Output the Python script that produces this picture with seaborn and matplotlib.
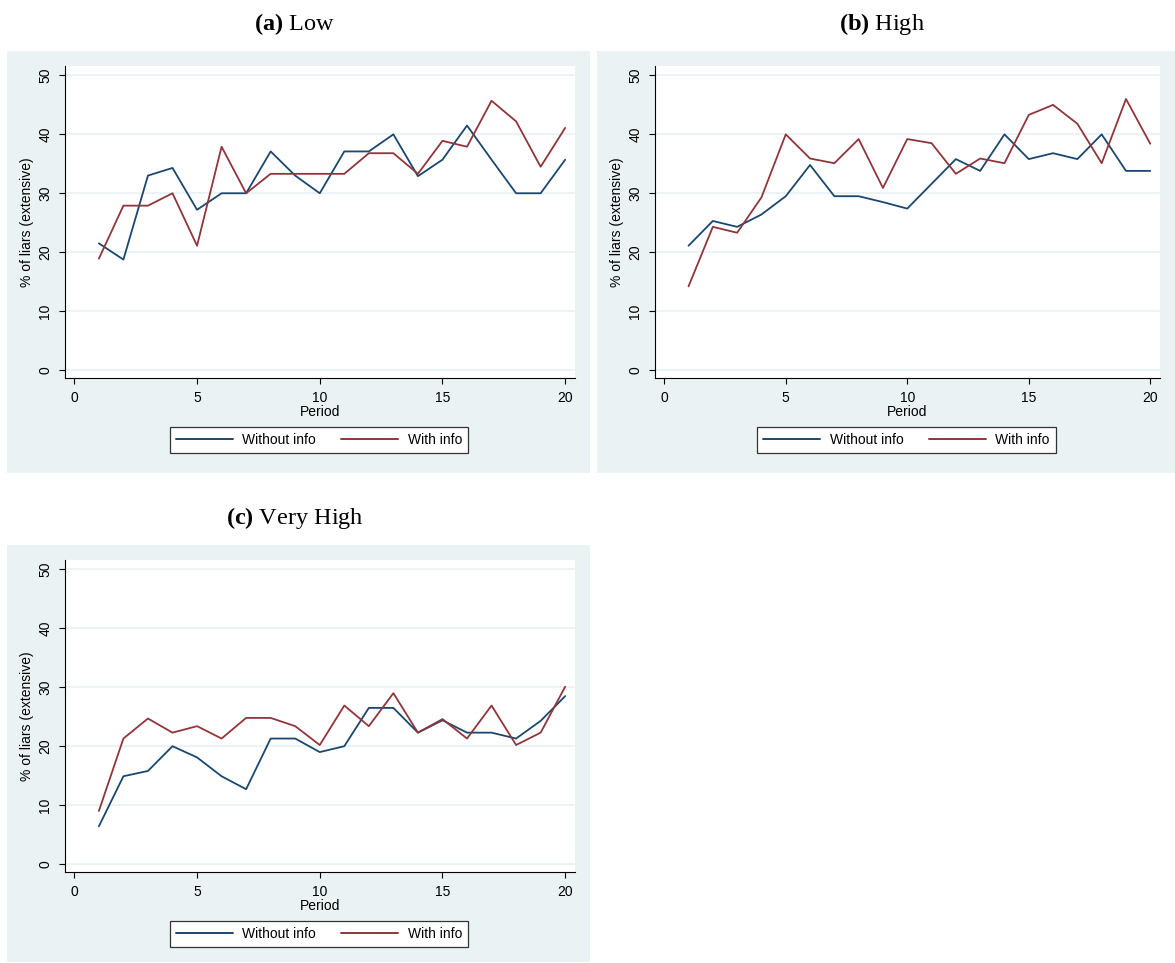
import numpy as np
import pandas as pd
import matplotlib
matplotlib.use("Agg")
import matplotlib.pyplot as plt
from matplotlib.patches import Rectangle
import seaborn as sns

# -----------------------------
# Data
# -----------------------------
periods = list(range(1, 21))

low_without = [21.5, 18.75, 33.0, 34.3, 27.2, 30.0, 30.0, 37.1, 33.0, 30.0,
               37.1, 37.1, 40.0, 32.9, 35.7, 41.5, 35.7, 30.0, 30.0, 35.7]
low_with = [18.9, 27.9, 27.9, 30.0, 21.1, 37.9, 30.0, 33.3, 33.3, 33.3,
            33.3, 36.8, 36.8, 33.3, 38.9, 37.9, 45.7, 42.2, 34.5, 41.1]

high_without = [21.1, 25.3, 24.3, 26.4, 29.5, 34.8, 29.5, 29.5, 28.5, 27.4,
                31.6, 35.8, 33.8, 40.0, 35.8, 36.8, 35.8, 40.0, 33.8, 33.8]
high_with = [14.2, 24.3, 23.3, 29.3, 40.0, 35.9, 35.1, 39.2, 30.9, 39.2,
             38.5, 33.3, 35.9, 35.1, 43.3, 45.0, 41.8, 35.1, 46.0, 38.4]

vhigh_without = [6.4, 14.9, 15.8, 20.0, 18.1, 14.9, 12.7, 21.3, 21.3, 19.0,
                 20.0, 26.5, 26.5, 22.3, 24.4, 22.3, 22.3, 21.3, 24.3, 28.5]
vhigh_with = [9.0, 21.3, 24.7, 22.3, 23.4, 21.3, 24.8, 24.8, 23.4, 20.2,
              26.9, 23.4, 29.0, 22.3, 24.6, 21.3, 26.9, 20.2, 22.3, 30.1]

groups = ["Without info", "With info"]
x_ticks = [0, 5, 10, 15, 20]
y_ticks = [0, 10, 20, 30, 40, 50]

NAVY = "#1a476f"
MAROON = "#90353b"
BG = "#eaf2f3"

# -----------------------------
# Style
# -----------------------------
sns.set_style("ticks")
plt.rcParams["font.family"] = ["Liberation Sans", "DejaVu Sans"]
plt.rcParams["mathtext.fontset"] = "custom"
plt.rcParams["mathtext.rm"] = "Liberation Serif"
plt.rcParams["mathtext.bf"] = "Liberation Serif:bold"
plt.rcParams["text.color"] = "black"
plt.rcParams["axes.labelcolor"] = "black"
plt.rcParams["xtick.color"] = "black"
plt.rcParams["ytick.color"] = "black"

W, H = 1175, 963
fig = plt.figure(figsize=(W / 100, H / 100), dpi=100)
fig.patch.set_facecolor("white")


def fx(px):
    return px / W


def fy(py):
    return 1 - py / H


# panel: (bg_left, bg_top, bg_right, bg_bottom), title, series
panels = [
    ((7, 51, 590, 473), r"$\mathbf{(a)}$ Low", low_without, low_with),
    ((597, 51, 1175, 473), r"$\mathbf{(b)}$ High", high_without, high_with),
    ((7, 545, 590, 962), r"$\mathbf{(c)}$ Very High", vhigh_without, vhigh_with),
]

for (l, t, r, b), title, without, with_ in panels:
    # gray graph region
    fig.patches.append(Rectangle((fx(l), fy(b)), fx(r - l), (b - t) / H,
                                 transform=fig.transFigure, facecolor=BG,
                                 edgecolor="none", zorder=-5))
    fig.text(fx((l + r) / 2 - 4), fy(t - 27), title, ha="center", va="center",
             fontsize=17.5, family="Liberation Serif", color="black")

    ax_l, ax_t = l + 58, t + 15
    ax_r, ax_b = r - 15, t + 327
    ax = fig.add_axes([fx(ax_l), fy(ax_b), fx(ax_r - ax_l), (ax_b - ax_t) / H])
    ax.set_zorder(1)
    ax.set_facecolor("white")

    df = pd.DataFrame({
        "Period": periods * 2,
        "pct": without + with_,
        "group": [groups[0]] * len(periods) + [groups[1]] * len(periods),
    })
    sns.lineplot(data=df, x="Period", y="pct", hue="group", hue_order=groups,
                 palette=[NAVY, MAROON], linewidth=1.3, ax=ax, legend=True)

    ax.set_xlim(-0.38, 20.4)
    ax.set_ylim(-1.35, 51.6)
    ax.set_xticks(x_ticks)
    ax.set_yticks(y_ticks)
    ax.yaxis.grid(True, color=BG, linewidth=1.3)
    ax.set_axisbelow(True)
    for s in ["top", "right"]:
        ax.spines[s].set_visible(False)
    for s in ["left", "bottom"]:
        ax.spines[s].set_linewidth(0.8)
        ax.spines[s].set_color("black")
    ax.tick_params(axis="both", length=4, width=0.8, labelsize=10, pad=5)
    for lab in ax.get_yticklabels():
        lab.set_rotation(90)
        lab.set_va("center")
    ax.set_xlabel("Period", fontsize=10, labelpad=0)
    ax.set_ylabel("% of liars (extensive)", fontsize=10, labelpad=3)

    handles, labels = ax.get_legend_handles_labels()
    leg = ax.legend(handles, labels, loc="center", bbox_to_anchor=(0.498, -0.199),
                    ncol=2, fontsize=10, frameon=True, fancybox=False,
                    handlelength=4.1, handletextpad=0.7, columnspacing=1.8,
                    borderpad=0.45, borderaxespad=0)
    leg.get_frame().set_edgecolor("#333333")
    leg.get_frame().set_linewidth(0.9)
    leg.get_frame().set_alpha(1)
    for line in leg.get_lines():
        line.set_linewidth(1.4)

fig.savefig("out.png", dpi=100, facecolor="white")
